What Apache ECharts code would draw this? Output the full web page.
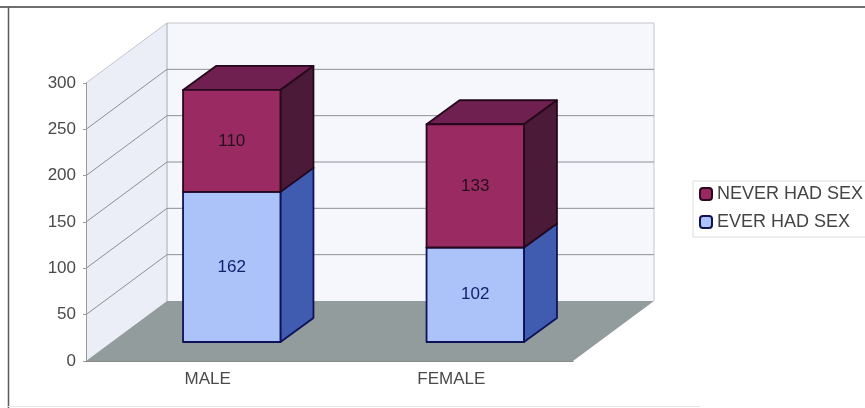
<!DOCTYPE html>
<html>
<head>
<meta charset="utf-8">
<style>html,body{margin:0;padding:0;background:#fff}#chart{width:865px;height:408px}</style>
<script src="https://cdn.jsdelivr.net/npm/echarts@6/dist/echarts.min.js"></script>
</head>
<body>
<div id="chart"></div>
<script>
// Survey counts per gender
const categories = ['MALE', 'FEMALE'];
const everHadSex = [162, 102];
const neverHadSex = [110, 133];
const valueTicks = [0, 50, 100, 150, 200, 250, 300];

// Oblique projection of the 3D box
const wallDX = 81, wallDY = -60;
const barShiftX = 24, barShiftY = -19;
const barSideDX = 33, barSideDY = -24;
const barWidthRatio = 0.4;

const FONT = '"Liberation Sans", Arial, sans-serif';

function poly(points, fill, stroke, lineWidth) {
  return {
    type: 'polygon',
    shape: { points: points },
    style: { fill: fill, stroke: stroke || null, lineWidth: lineWidth || 0, lineJoin: 'round' }
  };
}

function renderWalls(params, api) {
  const cs = params.coordSys;
  const l = cs.x, r = cs.x + cs.width, t = cs.y, b = cs.y + cs.height;
  return {
    type: 'group',
    children: [
      poly([[l, b], [l, t], [l + wallDX, t + wallDY], [l + wallDX, b + wallDY]], '#ebeef6'),
      poly([[l + wallDX, b + wallDY], [l + wallDX, t + wallDY], [r + wallDX, t + wallDY], [r + wallDX, b + wallDY]], '#f5f7fc'),
      poly([[l, b], [l + wallDX, b + wallDY], [r + wallDX, b + wallDY], [r, b]], '#929c9c'),
      { type: 'polyline', shape: { points: [[l, t], [l + wallDX, t + wallDY], [r + wallDX, t + wallDY], [r + wallDX, b + wallDY]] }, style: { fill: null, stroke: '#c3c6cb', lineWidth: 1 } },
      { type: 'line', shape: { x1: l + wallDX, y1: t + wallDY, x2: l + wallDX, y2: b + wallDY }, style: { stroke: '#a8acb2', lineWidth: 1 } }
    ]
  };
}

function renderGrid(params, api) {
  const v = api.value(0);
  if (v === 0 || v === 300) return null;
  const cs = params.coordSys;
  const y = api.coord([0, v])[1];
  const l = cs.x, r = cs.x + cs.width;
  return {
    type: 'polyline',
    shape: { points: [[l, y], [l + wallDX, y + wallDY], [r + wallDX, y + wallDY]] },
    style: { fill: null, stroke: '#8c9095', lineWidth: 1 }
  };
}

function barRenderer(front, top, side, edge, textColor) {
  return function (params, api) {
    const cat = api.value(0), start = api.value(1), end = api.value(2);
    const w = api.size([1, 0])[0] * barWidthRatio;
    const p0 = api.coord([cat, start]), p1 = api.coord([cat, end]);
    const x0 = p0[0] - w / 2 + barShiftX, x1 = x0 + w;
    const yb = p0[1] + barShiftY, yt = p1[1] + barShiftY;
    const dx = barSideDX, dy = barSideDY;
    return {
      type: 'group',
      children: [
        poly([[x0, yt], [x1, yt], [x1 + dx, yt + dy], [x0 + dx, yt + dy]], top, edge, 1.8),
        poly([[x1, yb], [x1, yt], [x1 + dx, yt + dy], [x1 + dx, yb + dy]], side, edge, 1.8),
        poly([[x0, yb], [x0, yt], [x1, yt], [x1, yb]], front, edge, 1.8),
        {
          type: 'text',
          style: {
            text: String(end - start),
            x: (x0 + x1) / 2, y: (yb + yt) / 2,
            align: 'center', verticalAlign: 'middle',
            fill: textColor, font: '17px ' + FONT
          }
        }
      ]
    };
  };
}

const chart = echarts.init(document.getElementById('chart'), null, { renderer: 'canvas' });
chart.setOption({
  animation: false,
  backgroundColor: '#ffffff',
  grid: { left: 86, top: 83, width: 487, height: 278, containLabel: false },
  xAxis: {
    type: 'category',
    data: categories,
    z: 5,
    axisLine: { lineStyle: { color: '#8a8a8a', width: 1 } },
    axisTick: { alignWithLabel: false, length: 4, lineStyle: { color: '#8a8a8a' } },
    axisLabel: { color: '#4a4a4a', fontFamily: FONT, fontSize: 17, margin: 10 }
  },
  yAxis: {
    type: 'value',
    min: 0, max: 300, interval: 50,
    z: 5,
    splitLine: { show: false },
    axisLine: { show: true, lineStyle: { color: '#9a9a9a', width: 1 } },
    axisTick: { show: true, length: 3, lineStyle: { color: '#9a9a9a' } },
    axisLabel: { color: '#4a4a4a', fontFamily: FONT, fontSize: 17, margin: 10 }
  },
  legend: {
    data: ['NEVER HAD SEX', 'EVER HAD SEX'],
    orient: 'vertical',
    left: 693, top: 181,
    padding: [3, 8, 5, 6],
    itemWidth: 12, itemHeight: 12, itemGap: 8,
    icon: 'roundRect',
    borderColor: '#dcdcdc', borderWidth: 1,
    textStyle: { color: '#444', fontFamily: FONT, fontSize: 18, lineHeight: 20 }
  },
  graphic: [
    { type: 'line', silent: true, shape: { x1: 0, y1: 7, x2: 865, y2: 7 }, style: { stroke: '#3e3e3e', lineWidth: 1.5 } },
    { type: 'line', silent: true, shape: { x1: 8.5, y1: 7, x2: 8.5, y2: 408 }, style: { stroke: '#5a5a5a', lineWidth: 1.5 } },
    { type: 'line', silent: true, shape: { x1: 8, y1: 406.5, x2: 700, y2: 406.5 }, style: { stroke: '#e6e6e6', lineWidth: 1 } }
  ],
  series: [
    { type: 'custom', name: 'walls', z: 1, silent: true, renderItem: renderWalls, data: [[0]], encode: { x: 0 }, clip: false },
    { type: 'custom', name: 'gridlines', z: 1.5, silent: true, renderItem: renderGrid, data: valueTicks.map(v => [v]), encode: { y: 0 }, clip: false },
    {
      type: 'custom', name: 'EVER HAD SEX', z: 3, clip: false,
      itemStyle: { color: '#abc3f8', borderColor: '#12124f', borderWidth: 1.5 },
      renderItem: barRenderer('#abc3f8', '#6f8fe0', '#3f5cb0', '#0e1258', '#12206e'),
      encode: { x: 0, y: 2 },
      data: categories.map((c, i) => [i, 0, everHadSex[i]])
    },
    {
      type: 'custom', name: 'NEVER HAD SEX', z: 4, clip: false,
      itemStyle: { color: '#98285f', borderColor: '#2a0a20', borderWidth: 1.5 },
      renderItem: barRenderer('#9a2a62', '#702050', '#4b1a38', '#25081c', '#25101c'),
      encode: { x: 0, y: 2 },
      data: categories.map((c, i) => [i, everHadSex[i], everHadSex[i] + neverHadSex[i]])
    }
  ]
});
</script>
</body>
</html>
